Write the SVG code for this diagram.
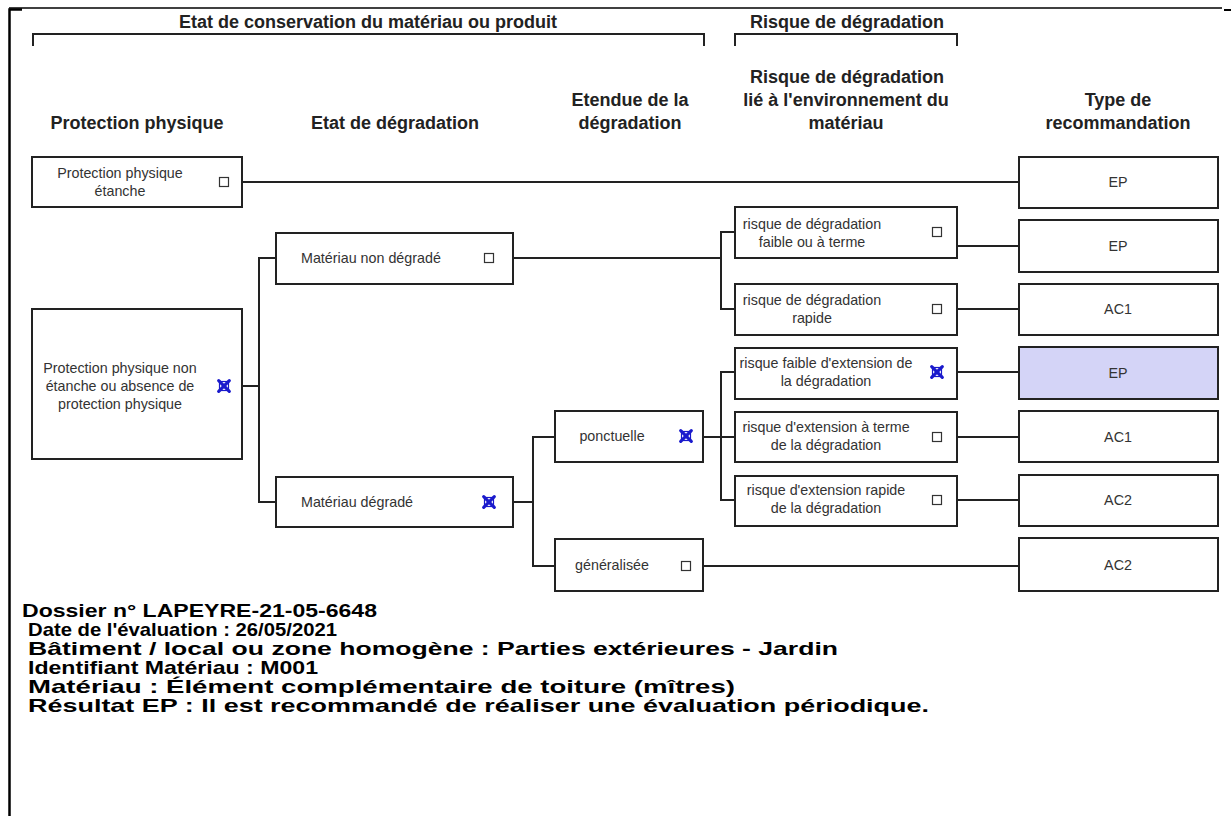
<svg xmlns="http://www.w3.org/2000/svg" width="1231" height="816" viewBox="0 0 1231 816">
<style>
.bg{fill:#ffffff}
.box{fill:#ffffff;stroke:#222222;stroke-width:2}
.hl{fill:#d4d4f7;stroke:#222222;stroke-width:2}
.t{font-family:"Liberation Sans",Arial,sans-serif;font-size:14.3px;fill:#333333}
.c{text-anchor:middle}
.h{font-family:"Liberation Sans",Arial,sans-serif;font-size:18px;font-weight:bold;fill:#222222;text-anchor:middle}
.b{font-family:"Liberation Sans",Arial,sans-serif;font-size:19px;font-weight:bold;fill:#000000}
.ln{fill:none;stroke:#222222;stroke-width:2}
.cb{fill:#ffffff;stroke:#333333;stroke-width:1.2}
.xb{fill:none;stroke:#1a1acc;stroke-width:1.2}
.xx{stroke:#1a1acc;stroke-width:3.2;stroke-linecap:round}
.frame{fill:none;stroke:#000000}
</style>
<defs>
<g id="cbox"><rect class="cb" x="-4.5" y="-4.5" width="9" height="9"/></g>
<g id="xbox"><rect class="xb" x="-4.5" y="-4.5" width="9" height="9"/><line class="xx" x1="-5.3" y1="-5.3" x2="5.3" y2="5.3"/><line class="xx" x1="5.3" y1="-5.3" x2="-5.3" y2="5.3"/></g>
</defs>
<rect class="bg" x="0" y="0" width="1231" height="816"/>
<g id="frame">
<path class="frame" stroke-width="1.5" d="M9,8 H1222"/>
<path class="frame" stroke-width="2.5" d="M9.5,816 V9.5 H22"/>
<path class="frame" stroke-width="2" d="M1224,10 H1231"/>
</g>
<g id="headers">
<text class="h" x="368" y="28">Etat de conservation du matériau ou produit</text>
<text class="h" x="847" y="28">Risque de dégradation</text>
<path class="ln" d="M33,46 V34 H704 V46"/>
<path class="ln" d="M735,46 V34 H957 V46"/>
<text class="h" x="137" y="129">Protection physique</text>
<text class="h" x="395" y="129">Etat de dégradation</text>
<text class="h" x="630" y="106">Etendue de la</text>
<text class="h" x="630" y="129">dégradation</text>
<text class="h" x="847" y="83">Risque de dégradation</text>
<text class="h" x="846" y="106">lié à l'environnement du</text>
<text class="h" x="846" y="129">matériau</text>
<text class="h" x="1118" y="106">Type de</text>
<text class="h" x="1118" y="129">recommandation</text>
</g>
<g id="connectors">
<path class="ln" d="M242,182 H1019"/>
<path class="ln" d="M242,386 H259 M276,258 H259 V502 H276"/>
<path class="ln" d="M513,258 H721 M735,232 H721 V309 H735"/>
<path class="ln" d="M957,246 H1019"/>
<path class="ln" d="M957,309 H1019"/>
<path class="ln" d="M513,502 H533 M555,437 H533 V566 H555"/>
<path class="ln" d="M703,437 H735 M735,372 H721 V500 H735"/>
<path class="ln" d="M957,372 H1019"/>
<path class="ln" d="M957,437 H1019"/>
<path class="ln" d="M957,500 H1019"/>
<path class="ln" d="M703,566 H1019"/>
</g>
<g id="n-pp-etanche">
<rect class="box" x="32" y="157" width="210" height="50"/>
<text class="t c" x="120" y="178">Protection physique</text>
<text class="t c" x="120" y="196">étanche</text>
<use href="#cbox" x="224" y="182"/>
</g>
<g id="n-pp-non-etanche">
<rect class="box" x="32" y="309" width="210" height="150"/>
<text class="t c" x="120" y="373">Protection physique non</text>
<text class="t c" x="120" y="391">étanche ou absence de</text>
<text class="t c" x="120" y="409">protection physique</text>
<use href="#xbox" x="224" y="386"/>
</g>
<g id="n-non-degrade">
<rect class="box" x="276" y="233" width="237" height="51"/>
<text class="t" x="301" y="263">Matériau non dégradé</text>
<use href="#cbox" x="489" y="258"/>
</g>
<g id="n-degrade">
<rect class="box" x="276" y="477" width="237" height="50"/>
<text class="t" x="301" y="507">Matériau dégradé</text>
<use href="#xbox" x="489" y="502"/>
</g>
<g id="n-ponctuelle">
<rect class="box" x="555" y="411" width="148" height="51"/>
<text class="t c" x="612" y="441">ponctuelle</text>
<use href="#xbox" x="686" y="436"/>
</g>
<g id="n-generalisee">
<rect class="box" x="555" y="539" width="148" height="52"/>
<text class="t c" x="612" y="570">généralisée</text>
<use href="#cbox" x="686" y="566"/>
</g>
<g id="n-r1">
<rect class="box" x="735" y="207" width="222" height="51"/>
<text class="t c" x="812" y="229">risque de dégradation</text>
<text class="t c" x="812" y="247">faible ou à terme</text>
<use href="#cbox" x="937" y="232"/>
</g>
<g id="n-r2">
<rect class="box" x="735" y="284" width="222" height="51"/>
<text class="t c" x="812" y="305">risque de dégradation</text>
<text class="t c" x="812" y="323">rapide</text>
<use href="#cbox" x="937" y="309"/>
</g>
<g id="n-r3">
<rect class="box" x="735" y="348" width="222" height="51"/>
<text class="t c" x="826" y="368">risque faible d'extension de</text>
<text class="t c" x="826" y="386">la dégradation</text>
<use href="#xbox" x="937" y="372"/>
</g>
<g id="n-r4">
<rect class="box" x="735" y="412" width="222" height="50"/>
<text class="t c" x="826" y="432">risque d'extension à terme</text>
<text class="t c" x="826" y="450">de la dégradation</text>
<use href="#cbox" x="937" y="437"/>
</g>
<g id="n-r5">
<rect class="box" x="735" y="476" width="222" height="50"/>
<text class="t c" x="826" y="495">risque d'extension rapide</text>
<text class="t c" x="826" y="513">de la dégradation</text>
<use href="#cbox" x="937" y="500"/>
</g>
<g id="n-t1"><rect class="box" x="1019" y="157" width="199" height="51"/><text class="t c" x="1118" y="187">EP</text></g>
<g id="n-t2"><rect class="box" x="1019" y="220" width="199" height="52"/><text class="t c" x="1118" y="251">EP</text></g>
<g id="n-t3"><rect class="box" x="1019" y="284" width="199" height="51"/><text class="t c" x="1118" y="314">AC1</text></g>
<g id="n-t4"><rect class="hl" x="1019" y="347" width="199" height="52"/><text class="t c" x="1118" y="378">EP</text></g>
<g id="n-t5"><rect class="box" x="1019" y="411" width="199" height="51"/><text class="t c" x="1118" y="442">AC1</text></g>
<g id="n-t6"><rect class="box" x="1019" y="475" width="199" height="51"/><text class="t c" x="1118" y="505">AC2</text></g>
<g id="n-t7"><rect class="box" x="1019" y="538" width="199" height="53"/><text class="t c" x="1118" y="570">AC2</text></g>
<g id="info">
<text class="b" x="22" y="617" textLength="355" lengthAdjust="spacingAndGlyphs">Dossier n° LAPEYRE-21-05-6648</text>
<text class="b" x="28" y="636" textLength="309" lengthAdjust="spacingAndGlyphs">Date de l'évaluation : 26/05/2021</text>
<text class="b" x="28" y="655" textLength="810" lengthAdjust="spacingAndGlyphs">Bâtiment / local ou zone homogène : Parties extérieures - Jardin</text>
<text class="b" x="28" y="674" textLength="290" lengthAdjust="spacingAndGlyphs">Identifiant Matériau : M001</text>
<text class="b" x="28" y="693" textLength="707" lengthAdjust="spacingAndGlyphs">Matériau : Élément complémentaire de toiture (mîtres)</text>
<text class="b" x="28" y="712" textLength="901" lengthAdjust="spacingAndGlyphs">Résultat EP : Il est recommandé de réaliser une évaluation périodique.</text>
</g>
</svg>
